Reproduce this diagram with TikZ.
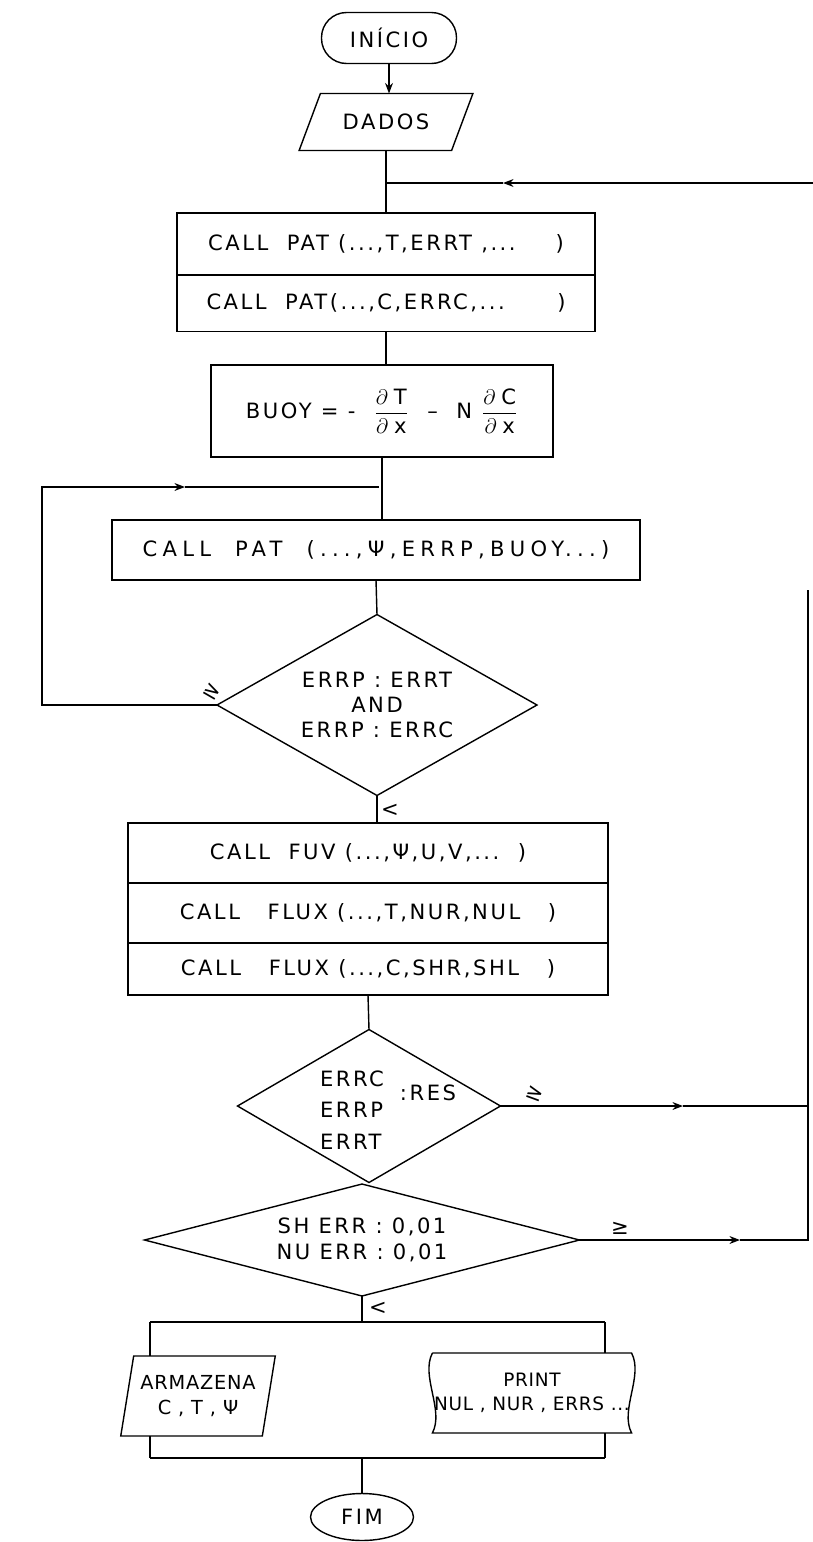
\documentclass[tikz,border=0pt]{standalone}
\usepackage{amsmath}
\usepackage{fontspec}
\setmainfont{DejaVu Sans}[LetterSpace=12]
\newfontfamily\widefont{DejaVu Sans}[LetterSpace=25]
\newfontfamily\tightfont{DejaVu Sans}[LetterSpace=4]
\usetikzlibrary{arrows.meta, positioning, shapes.geometric}

\begin{document}
\begin{tikzpicture}[
		x=0.02cm, y=-0.02cm,
		line width=0.8pt,
		every node/.style={font=\fontsize{12}{14}\selectfont, outer sep=0pt},
		box/.style={draw, rectangle, minimum height=1.2cm, align=center},
		term/.style={draw, rectangle, rounded corners=0.5cm},
		io/.style={draw, trapezium, trapezium stretches=true, align=center},
		decision/.style={draw, diamond, inner sep=0pt, align=center},
		txt/.style={inner sep=1pt, align=center},
		arrow/.style={-{Stealth[length=6pt,width=4.5pt]}}
		]
		
		\useasboundingbox (0,0) rectangle (813,1542);
		
		\node[term, minimum width=2.7cm, minimum height=1.02cm] (inicio) at (389,38) {INÍCIO};
		\node[io, trapezium left angle=60, trapezium right angle=120, minimum width=3.5cm, minimum height=1.14cm] (dados) at (386,122) {DADOS};
		
		\node[box, minimum width=8.36cm, minimum height=1.24cm] (patT) at (386,244) {CALL~~PAT (...,T,ERRT ,...\hspace{0.8cm})};
		\node[box, minimum width=8.36cm, minimum height=1.14cm] (patC) at (386,303) {CALL~~PAT(...,C,ERRC,...\hspace{1.05cm})};
		\node[box, minimum width=6.84cm, minimum height=1.84cm] (buoy) at (382,411) {BUOY~=~-~~$\dfrac{\partial\;\text{T}}{\partial\;\text{x}}$~~–~~N~$\dfrac{\partial\;\text{C}}{\partial\;\text{x}}$};
		\node[box, minimum width=10.56cm, font=\widefont\fontsize{12}{14}\selectfont] (psi) at (376,550) {CALL~~PAT~~(...,Ψ,ERRP,BUOY...)};
		
		\node[decision, aspect=1.77, minimum width=6.4cm, minimum height=3.62cm] (dia1) at (377,705) {ERRP : ERRT\\AND\\ERRP : ERRC};
		
		\node[box, minimum width=9.6cm] (fuv) at (368,853) {CALL~~FUV (...,Ψ,U,V,...~~)};
		\node[box, minimum width=9.6cm] (fluxT) at (368,913) {CALL~~~FLUX (...,T,NUR,NUL~~~)};
		\node[box, minimum width=9.6cm, minimum height=1.04cm] (fluxC) at (368,969) {CALL~~~FLUX (...,C,SHR,SHL~~~)};
		
		\node[decision, aspect=1.72, minimum width=5.26cm, minimum height=3.06cm] (dia2) at (369,1106) {};
		\node[txt, align=left] (dia2txt) at (352,1110) {ERRC\\[4pt]ERRP\\[4pt]ERRT};
		\node[txt] (res) at (428,1093) {:RES};
		
		\node[decision, aspect=3.88, minimum width=8.7cm, minimum height=2.24cm] (dia3) at (362,1240) {SH ERR : 0,01\\[1pt]NU ERR : 0,01};
		
		\node[io, trapezium left angle=75, trapezium right angle=105, minimum width=3.1cm, minimum height=1.6cm, inner sep=1pt, font=\tightfont\fontsize{11}{14}\selectfont] (arma) at (198,1396) {ARMAZENA\\C , T , Ψ};
		\node[minimum width=3.7cm, minimum height=1.6cm, inner sep=1pt, align=center, font=\tightfont\fontsize{10.5}{14}\selectfont] (print) at (532,1393) {PRINT\\NUL , NUR , ERRS ...};
		\draw (print.north west) -- (print.north east) .. controls +(12,23) and +(-12,-23) .. (print.south east)
		-- (print.south west) .. controls +(12,-23) and +(-12,23) .. (print.north west);
		
		\node[draw, ellipse, minimum width=2.06cm, minimum height=0.94cm] (fim) at (362,1517) {FIM};
		
		\node[txt, rotate=-30] (ge1) at (212,692) {≥};
		\node[txt] (lt1) at (390,810) {<};
		\node[txt, rotate=-20] (ge2) at (535,1094) {≥};
		\node[txt] (ge3) at (620,1228) {≥};
		\node[txt] (lt3) at (378,1308) {<};
		
		\coordinate (retE) at (813,183);
		\coordinate (retA) at (503,183);
		\coordinate (retJ) at (386,183);
		\coordinate (loopJ) at (379,487);
		\coordinate (loopA) at (185,487);
		\coordinate (loopNW) at (42,487);
		\coordinate (loopSW) at (42,705);
		\coordinate (d2A) at (683,1106);
		\coordinate (d3A) at (740,1240);
		\coordinate (rtop) at (808,590);
		\coordinate (rbot) at (808,1240);
		\coordinate (split) at (362,1322);
		\coordinate (brL) at (150,1322);
		\coordinate (brR) at (605,1322);
		\coordinate (bjL) at (150,1458);
		\coordinate (bjR) at (605,1458);
		
		\draw[arrow] (inicio.south) -- (inicio.south |- dados.north);
		\draw (dados.south) -- (dados.south |- patT.north);
		\draw[arrow] (retE) -- (retA);
		\draw (retA) -- (retJ);
		\draw (patC.south) -- (patC.south |- buoy.north);
		\draw (buoy.south) -- (buoy.south |- psi.north);
		\draw (psi.south) -- (dia1.north);
		\draw[arrow] (dia1.west) -- (loopSW) -- (loopNW) -- (loopA);
		\draw (loopA) -- (loopJ);
		\draw (dia1.south) -- (dia1.south |- fuv.north);
		\draw (fluxC.south) -- (dia2.north);
		\draw[arrow] (dia2.east) -- (d2A);
		\draw (d2A) -- (d2A -| rbot);
		\draw[arrow] (dia3.east) -- (d3A);
		\draw (d3A) -- (rbot) -- (rtop);
		\draw (dia3.south) -- (split);
		\draw (brL) -- (brR);
		\draw (brL) -- (brL |- arma.north);
		\draw (brL |- arma.south) -- (bjL);
		\draw (brR) -- (brR |- print.north);
		\draw (brR |- print.south) -- (bjR);
		\draw (bjL) -- (bjR);
		\draw (fim.north |- bjL) -- (fim.north);
		
	\end{tikzpicture}
\end{document}
